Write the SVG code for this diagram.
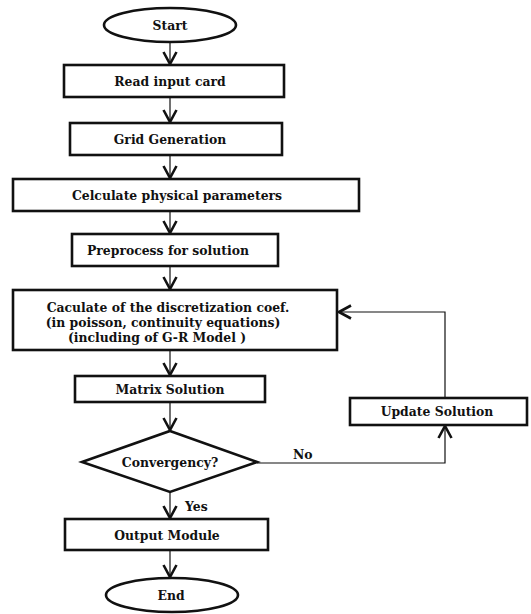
<svg xmlns="http://www.w3.org/2000/svg" width="531" height="614" viewBox="0 0 531 614">
<style>
.box{fill:#fff;stroke:#111;stroke-width:2.6}
.t{font-family:"DejaVu Serif","Liberation Serif",serif;font-weight:bold;font-size:12.4px;fill:#111;text-anchor:middle;dominant-baseline:central}
.lbl{font-family:"DejaVu Serif","Liberation Serif",serif;font-weight:bold;font-size:12.4px;fill:#111}
.c{fill:none;stroke:#111;stroke-width:1.2}
</style>
<defs>
<marker id="ah" markerUnits="userSpaceOnUse" viewBox="-14 -8 16 16" refX="0" refY="0" markerWidth="16" markerHeight="16" orient="auto">
<path d="M-12,-6.5 L0,0 L-12,6.5" fill="none" stroke="#111" stroke-width="2.6" stroke-linejoin="miter"/>
</marker>
</defs>
<rect width="531" height="614" fill="#fff"/>
<g id="connectors">
<path class="c" d="M170,43 V64" marker-end="url(#ah)"/>
<path class="c" d="M170,97 V122" marker-end="url(#ah)"/>
<path class="c" d="M170,155 V178" marker-end="url(#ah)"/>
<path class="c" d="M170,211 V233" marker-end="url(#ah)"/>
<path class="c" d="M170,266 V289" marker-end="url(#ah)"/>
<path class="c" d="M170,350 V375" marker-end="url(#ah)"/>
<path class="c" d="M170,402 V430" marker-end="url(#ah)"/>
<path class="c" d="M170,492 V518" marker-end="url(#ah)"/>
<path class="c" d="M170,550 V577" marker-end="url(#ah)"/>
<path class="c" d="M257,463 H445 V426" marker-end="url(#ah)"/>
<path class="c" d="M445,398 V312 H339" marker-end="url(#ah)"/>
<text class="lbl" x="293" y="459">No</text>
<text class="lbl" x="185" y="511">Yes</text>
</g>
<g id="start"><ellipse class="box" cx="170" cy="25" rx="66" ry="17"/><text class="t" x="170" y="25">Start</text></g>
<g id="read"><rect class="box" x="64" y="65" width="220" height="32"/><text class="t" x="170" y="81">Read input card</text></g>
<g id="grid"><rect class="box" x="70" y="123" width="212" height="32"/><text class="t" x="170" y="139">Grid Generation</text></g>
<g id="calc"><rect class="box" x="13" y="179" width="346" height="32"/><text class="t" x="177" y="195">Celculate physical parameters</text></g>
<g id="pre"><rect class="box" x="72" y="234" width="206" height="32"/><text class="t" x="168" y="250">Preprocess for solution</text></g>
<g id="coef"><rect class="box" x="13" y="290" width="324" height="60"/>
<text class="t" x="168" y="307">Caculate of the discretization coef.</text>
<text class="t" x="163" y="322">(in poisson, continuity equations)</text>
<text class="t" x="157" y="337">(including of G-R Model )</text></g>
<g id="matrix"><rect class="box" x="75" y="376" width="190" height="26"/><text class="t" x="170" y="389">Matrix Solution</text></g>
<g id="conv"><polygon class="box" points="170,431 257,462 170,492 82,462"/><text class="t" x="170" y="462">Convergency?</text></g>
<g id="update"><rect class="box" x="350" y="398" width="177" height="27"/><text class="t" x="437" y="411">Update Solution</text></g>
<g id="output"><rect class="box" x="65" y="519" width="203" height="31"/><text class="t" x="167" y="535">Output Module</text></g>
<g id="end"><ellipse class="box" cx="172" cy="595" rx="66" ry="17"/><text class="t" x="171" y="595">End</text></g>
</svg>
